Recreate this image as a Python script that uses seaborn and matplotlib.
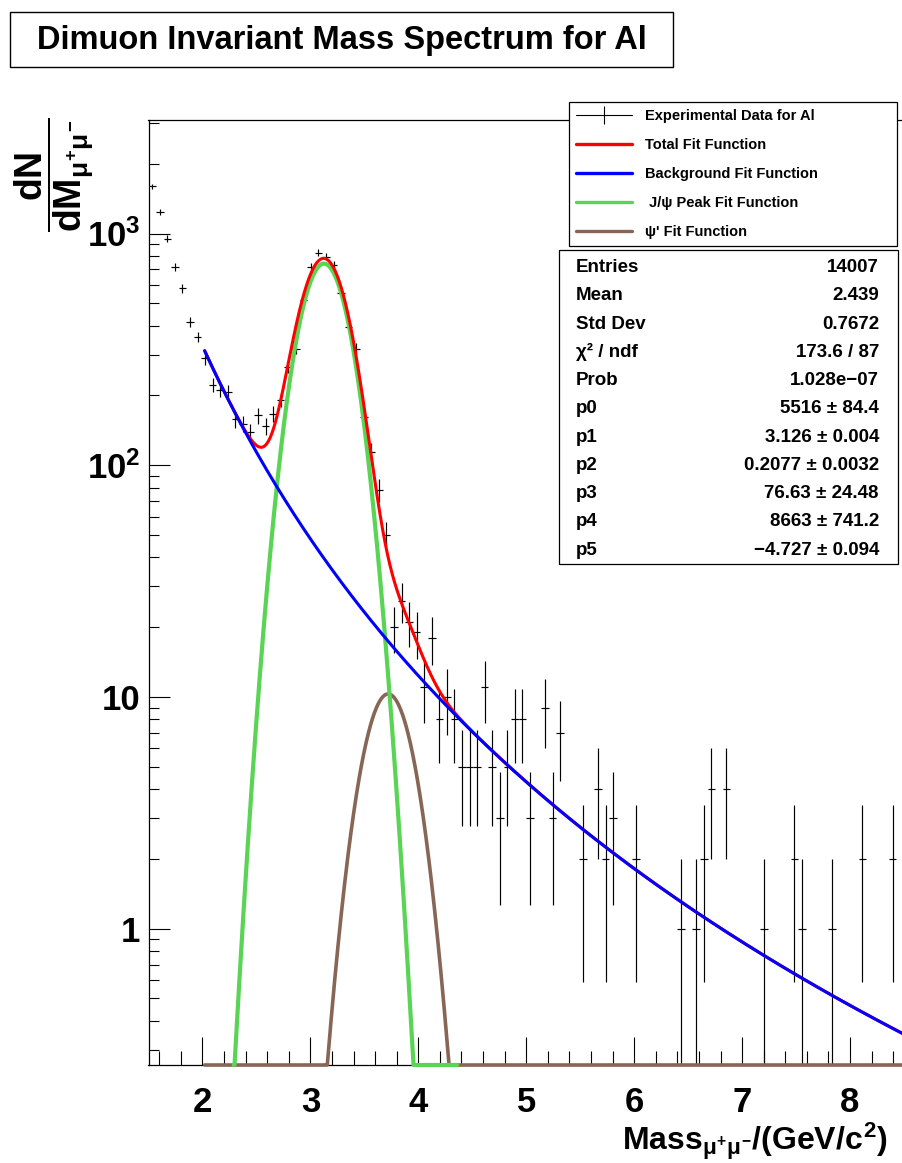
import numpy as np
import pandas as pd
import matplotlib
matplotlib.use("Agg")
import matplotlib.pyplot as plt
import seaborn as sns
from matplotlib.patches import Rectangle
from matplotlib.lines import Line2D
from matplotlib.ticker import FixedLocator, MultipleLocator, FuncFormatter, NullFormatter

# ---------------- data ----------------
HIST_LO, HIST_HI, N_BINS = 1.5, 8.5, 100          # histogram definition
counts = [
    1603, 1235, 950, 717, 580, 416, 358, 289, 222, 212,
    207, 158, 151, 139, 164, 147, 167, 192, 266, 319,
    516, 719, 826, 794, 731, 555, 395, 319, 161, 114,
    78, 50, 20, 26, 21, 19, 11, 18, 8, 10,
    8, 5, 5, 5, 11, 5, 3, 5, 8, 8,
    3, 0, 9, 3, 7, 0, 0, 2, 0, 4,
    2, 3, 0, 0, 2, 0, 0, 0, 0, 0,
    1, 0, 1, 2, 4, 0, 4, 0, 0, 0,
    0, 1, 0, 0, 0, 2, 1, 0, 0, 0,
    1, 0, 0, 0, 2, 0, 0, 0, 2, 0,
]

# fit parameters (stat box)
p0, p1, p2, p3, p4, p5 = 5516.0, 3.126, 0.2077, 76.63, 8663.0, -4.727
PSI2S_OVER_JPSI = 3.686 / 3.097
fit_range = [2.02, 8.5]
jpsi_draw_range = [2.29, 4.36]

Y_MIN, Y_MAX = 0.258, 3090.0
X_MIN, X_MAX = 1.5, 8.5
x_major = [2, 3, 4, 5, 6, 7, 8]
y_major = [1, 10, 100, 1000]
y_labels = {1: "1", 10: "10", 100: r"$10^{2}$", 1000: r"$10^{3}$"}

title = "Dimuon Invariant Mass Spectrum for Al"
legend_labels = ["Experimental Data for Al", "Total Fit Function",
                 "Background Fit Function", " J/\u03c8 Peak Fit Function",
                 "\u03c8' Fit Function"]
stat_names = ["Entries", "Mean", "Std Dev", "\u03c7\u00b2 / ndf", "Prob",
              "p0", "p1", "p2", "p3", "p4", "p5"]
stat_values = ["14007", "2.439", "0.7672", "173.6 / 87", "1.028e\u221207",
               "5516 \u00b1 84.4", "3.126 \u00b1 0.004", "0.2077 \u00b1 0.0032",
               "76.63 \u00b1 24.48", "8663 \u00b1 741.2", "\u22124.727 \u00b1 0.094"]

C_RED, C_BLUE, C_GREEN, C_BROWN = "#ff0000", "#0000ff", "#59d454", "#876656"

# ---------------- style ----------------
sns.set_theme(style="white")
plt.rcParams["font.family"] = ["Liberation Sans", "DejaVu Sans"]
plt.rcParams["font.weight"] = "bold"
plt.rcParams["text.color"] = "black"
plt.rcParams["axes.labelcolor"] = "black"
plt.rcParams["xtick.color"] = "black"
plt.rcParams["ytick.color"] = "black"
plt.rcParams["mathtext.fontset"] = "custom"
for k in ("rm", "it", "bf", "sf"):
    plt.rcParams["mathtext." + k] = "Liberation Sans:bold"

W, H = 902, 1163
fig = plt.figure(figsize=(W / 100, H / 100), dpi=100)
fig.patch.set_facecolor("white")

def fx(px):
    return px / W

def fy(py):
    return 1 - py / H

ax = fig.add_axes([fx(148.5), fy(1065), fx(904) - fx(148.5), fy(120) - fy(1065)])
ax.set_facecolor("white")
ax.set_yscale("log")

# ---------------- histogram ----------------
bw = (HIST_HI - HIST_LO) / N_BINS
centers = HIST_LO + bw * (np.arange(N_BINS) + 0.5)
cnt = np.array(counts, dtype=float)
m = cnt > 0
err = np.sqrt(cnt[m])
low = np.minimum(err, cnt[m] * 0.99999)
df = pd.DataFrame({"x": centers[m], "y": cnt[m]})
ax.errorbar(df["x"], df["y"], xerr=bw / 2, yerr=[low, err], fmt="none",
            ecolor="black", elinewidth=0.85, capsize=0, zorder=2)

# ---------------- fit functions ----------------
def jpsi(x):
    return p0 * bw / (np.sqrt(2 * np.pi) * p2) * np.exp(-0.5 * ((x - p1) / p2) ** 2)

def psi2s(x):
    mm = p1 * PSI2S_OVER_JPSI
    return p3 * bw / (np.sqrt(2 * np.pi) * p2) * np.exp(-0.5 * ((x - mm) / p2) ** 2)

def bkg(x):
    return p4 * x ** p5

def total(x):
    return jpsi(x) + psi2s(x) + bkg(x)

xs = np.linspace(fit_range[0], fit_range[1], 1500)
xj = np.linspace(jpsi_draw_range[0], jpsi_draw_range[1], 800)

curves = [
    (xs, psi2s(xs), C_BROWN, 2.6, 3),
    (xj, jpsi(xj), C_GREEN, 3.0, 4),
    (xs, total(xs), C_RED, 2.2, 5),
    (xs, bkg(xs), C_BLUE, 2.2, 6),
]
for xx, yy, col, lw, z in curves:
    d = pd.DataFrame({"x": xx, "y": np.maximum(yy, Y_MIN)})
    sns.lineplot(data=d, x="x", y="y", color=col, linewidth=lw, ax=ax,
                 estimator=None, sort=False, clip_on=False, zorder=z)

# ---------------- axes ----------------
ax.set_xlim(X_MIN, X_MAX)
ax.set_ylim(Y_MIN, Y_MAX)
ax.set_xlabel("")
ax.set_ylabel("")
ax.xaxis.set_major_locator(FixedLocator(x_major))
ax.xaxis.set_minor_locator(MultipleLocator(0.2))
ax.yaxis.set_major_locator(FixedLocator(y_major))
ymin_ticks = [s * 10.0 ** e for e in range(-1, 4) for s in range(2, 10)]
ax.yaxis.set_minor_locator(FixedLocator(ymin_ticks))
ax.yaxis.set_major_formatter(FuncFormatter(lambda v, p: y_labels.get(int(round(v)), "")))
ax.yaxis.set_minor_formatter(NullFormatter())
ax.xaxis.set_major_formatter(FuncFormatter(lambda v, p: "%d" % round(v)))

ax.tick_params(axis="x", which="major", direction="in", length=20, width=0.8,
               color="black", labelcolor="black", labelsize=25, pad=15,
               top=False, bottom=True)
ax.tick_params(axis="x", which="minor", direction="in", length=10, width=0.8,
               color="black", top=False, bottom=True)
ax.tick_params(axis="y", which="major", direction="in", length=15, width=0.8,
               color="black", labelcolor="black", labelsize=25, pad=6,
               left=True, right=False)
ax.tick_params(axis="y", which="minor", direction="in", length=7.5, width=0.8,
               color="black", left=True, right=False)
for lab in ax.get_xticklabels() + ax.get_yticklabels():
    lab.set_fontweight("bold")
for s in ("left", "bottom", "top"):
    ax.spines[s].set_visible(True)
    ax.spines[s].set_color("black")
    ax.spines[s].set_linewidth(0.9)
ax.spines["right"].set_visible(False)
ax.grid(False)

# axis titles
fig.text(fx(888), fy(1141), r"$Mass_{\mu^{+}\mu^{-}}/(GeV/c^{2})$",
         ha="right", va="center", fontsize=23, color="black")
fig.text(fx(13), fy(117), r"$\dfrac{dN}{dM_{\mu^{+}\mu^{-}}}$", rotation=90,
         ha="left", va="top", fontsize=27, color="black")

# ---------------- title box ----------------
fig.add_artist(Rectangle((fx(10), fy(67)), fx(673) - fx(10), fy(12) - fy(67),
                         transform=fig.transFigure, facecolor="white",
                         edgecolor="black", linewidth=1.0))
fig.text(fx(341.5), fy(40), title, ha="center", va="center", fontsize=23.5,
         fontweight="bold", color="black")

# ---------------- legend ----------------
handles = [
    Line2D([], [], color="black", lw=0.8, marker="|", markersize=12.7,
           markeredgewidth=0.8),
    Line2D([], [], color=C_RED, lw=2.4),
    Line2D([], [], color=C_BLUE, lw=2.4),
    Line2D([], [], color=C_GREEN, lw=2.4),
    Line2D([], [], color=C_BROWN, lw=2.4),
]
leg = ax.legend(handles, legend_labels, loc="upper left",
                bbox_to_anchor=(fx(569), fy(242), fx(897) - fx(569), fy(102) - fy(242)),
                bbox_transform=fig.transFigure, mode="expand", borderaxespad=0,
                frameon=True, fancybox=False, framealpha=1, edgecolor="black",
                prop={"family": "Liberation Sans", "weight": "bold", "size": 10.5},
                handlelength=3.8, handletextpad=0.9, labelspacing=1.02,
                borderpad=0.5, numpoints=1, labelcolor="black")
leg.get_frame().set_linewidth(0.9)
leg.set_zorder(20)

# ---------------- stats box ----------------
fig.add_artist(Rectangle((fx(559), fy(564)), fx(898) - fx(559), fy(250) - fy(564),
                         transform=fig.transFigure, facecolor="white",
                         edgecolor="black", linewidth=0.9, zorder=30))
for i, (n, v) in enumerate(zip(stat_names, stat_values)):
    yy = 267.5 + 28.27 * i
    fig.text(fx(576), fy(yy), n, ha="left", va="center", fontsize=13.5,
             fontweight="bold", color="black", zorder=31)
    fig.text(fx(879), fy(yy), v, ha="right", va="center", fontsize=13.5,
             fontweight="bold", color="black", zorder=31)

fig.savefig("out.png", dpi=100, facecolor="white")
